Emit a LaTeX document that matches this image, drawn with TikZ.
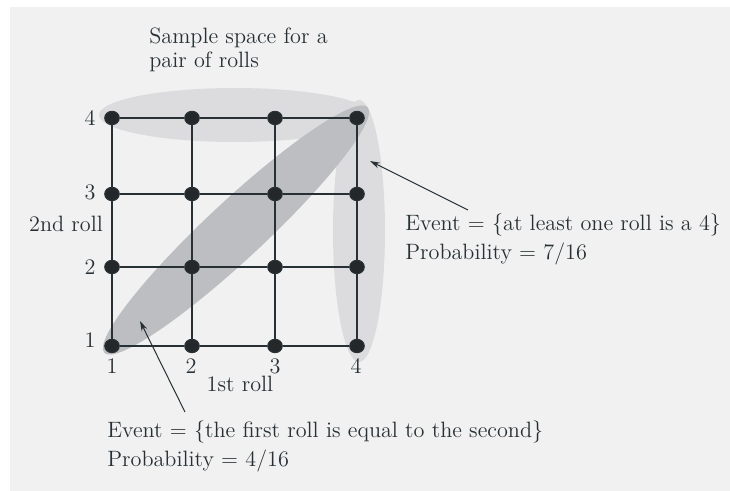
\documentclass[tikz,border=0pt]{standalone}
\usetikzlibrary{shapes.geometric,arrows.meta}
\definecolor{bg}{HTML}{F1F1F1}
\definecolor{lightell}{HTML}{DCDCDE}
\definecolor{darkell}{HTML}{BDBEC1}
\definecolor{ink}{HTML}{263035}
\definecolor{dotc}{HTML}{24282A}
\begin{document}
\begin{tikzpicture}[x=0.5pt,y=-0.5pt,
  every node/.style={text=ink,font=\fontsize{11.1}{14.5}\selectfont},
  dot/.style={ellipse,draw=ink,line width=0.6pt,fill=dotc,minimum width=7.2pt,minimum height=6.6pt,inner sep=0pt},
  gridline/.style={draw=ink,line width=1pt},
  lbl/.style={inner sep=0pt},
  callout/.style={draw=ink,line width=0.5pt,-{Stealth[length=5pt,width=3pt]}}]
\useasboundingbox (0,0) rectangle (730,491);
\fill[bg] (10,7) rectangle (730,491);
% event ellipses
\fill[lightell] (235,115) ellipse [x radius=136, y radius=27];
\fill[lightell] (359,231) ellipse [x radius=26, y radius=131];
\fill[darkell, rotate around={43:(236,230)}] (236,230) ellipse [x radius=180, y radius=29];
% dots
\foreach \i/\x in {1/112,2/192,3/275,4/357}{
  \foreach \j/\y in {1/346,2/267,3/194,4/118}{
    \node[dot] (d\i\j) at (\x,\y) {};
  }
}
% grid lines
\foreach \j in {1,2,3,4}{
  \draw[gridline] (d1\j) -- (d2\j) -- (d3\j) -- (d4\j);
  \draw[gridline] (d\j1) -- (d\j2) -- (d\j3) -- (d\j4);
}
% axis labels
\node[lbl] (r4) at (90,118) {4};
\node[lbl] (r3) at (90,192) {3};
\node[lbl] (r2) at (90,267) {2};
\node[lbl] (r1) at (90,340) {1};
\node[lbl] (c1) at (112,366) {1};
\node[lbl] (c2) at (191,366) {2};
\node[lbl] (c3) at (275,366) {3};
\node[lbl] (c4) at (356,366) {4};
\node[lbl] (ylab) at (66,224) {2nd roll};
\node[lbl] (xlab) at (240,384) {1st roll};
\node[lbl,anchor=north west,align=left,font=\fontsize{11.1}{12.3}\selectfont] (title) at (149,27) {Sample space for a\\pair of rolls};
\node[lbl,anchor=north west,align=left] (ev1) at (405,213) {Event = \{at least one roll is a 4\}\\Probability = 7/16};
\node[lbl,anchor=north west,align=left] (ev2) at (107,420) {Event = \{the first roll is equal to the second\}\\Probability = 4/16};
% callouts
\coordinate (a1s) at (468,210);
\coordinate (a1e) at (370,161);
\coordinate (a2s) at (185,412);
\coordinate (a2e) at (140,321);
\draw[callout] (a1s) -- (a1e);
\draw[callout] (a2s) -- (a2e);
\end{tikzpicture}
\end{document}
